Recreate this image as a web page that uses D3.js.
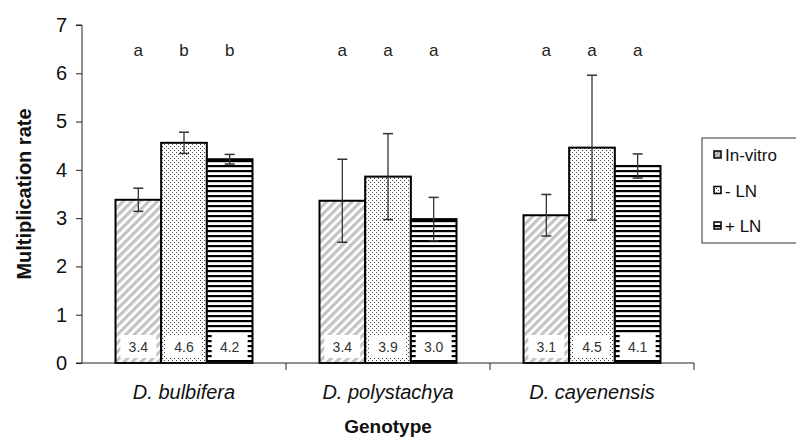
<!DOCTYPE html>
<html><head><meta charset="utf-8">
<script src="https://cdn.jsdelivr.net/npm/d3@7/dist/d3.min.js"></script>
<style>body{margin:0;background:#fff}svg{display:block}text{font-family:"Liberation Sans",Arial,sans-serif}</style>
</head><body><svg id="c" width="796" height="438"></svg>
<script>
const categories = ["D. bulbifera", "D. polystachya", "D. cayenensis"];
const seriesNames = ["In-vitro", "- LN", "+ LN"];
const inVitro = [3.38, 3.36, 3.06];
const inVitroErr = [0.24, 0.86, 0.43];
const minusLN = [4.56, 3.86, 4.46];
const minusLNErr = [0.22, 0.89, 1.50];
const plusLN = [4.22, 2.98, 4.08];
const plusLNErr = [0.10, 0.45, 0.25];
const letters = [["a","b","b"],["a","a","a"],["a","a","a"]];
const yTicks = [0,1,2,3,4,5,6,7];

const values = [inVitro, minusLN, plusLN];
const errs = [inVitroErr, minusLNErr, plusLNErr];
const patIds = ["pDiag", "pDots", "pHoriz"];
const legPatIds = ["pDiagS", "pDots", "pHoriz"];

const svg = d3.select("#c");
const defs = svg.append("defs");
const p1 = defs.append("pattern").attr("id","pDiag").attr("patternUnits","userSpaceOnUse")
  .attr("width",6).attr("height",6).attr("patternTransform","rotate(45)");
p1.append("rect").attr("width",6).attr("height",6).attr("fill","#fff");
p1.append("rect").attr("width",3.2).attr("height",6).attr("fill","#c4c4c4");
const p1s = defs.append("pattern").attr("id","pDiagS").attr("patternUnits","userSpaceOnUse")
  .attr("width",3).attr("height",3).attr("patternTransform","rotate(45)");
p1s.append("rect").attr("width",3).attr("height",3).attr("fill","#e0e0e0");
p1s.append("rect").attr("width",1.8).attr("height",3).attr("fill","#999");
const p2 = defs.append("pattern").attr("id","pDots").attr("patternUnits","userSpaceOnUse")
  .attr("width",4).attr("height",4);
p2.append("rect").attr("width",4).attr("height",4).attr("fill","#fff");
p2.append("rect").attr("x",0).attr("y",0).attr("width",1).attr("height",1).attr("fill","#444");
p2.append("rect").attr("x",2).attr("y",2).attr("width",1).attr("height",1).attr("fill","#444");
const p3 = defs.append("pattern").attr("id","pHoriz").attr("patternUnits","userSpaceOnUse")
  .attr("width",5).attr("height",5);
p3.append("rect").attr("width",5).attr("height",5).attr("fill","#fff");
p3.append("rect").attr("y",0).attr("width",5).attr("height",2.2).attr("fill","#000");

const x0 = 82, x1 = 694, yTop = 25, yBot = 363;
const x = d3.scaleBand().domain(categories).range([x0, x1]).paddingInner(0).paddingOuter(0);
const y = d3.scaleLinear().domain([0,7]).range([yBot, yTop]);
const groupW = 137;
const xs = d3.scaleBand().domain(seriesNames).range([0, groupW]).padding(0);

const g = svg.append("g");
categories.forEach((cat, ci) => {
  const gx = x(cat) + (x.bandwidth() - groupW)/2;
  seriesNames.forEach((s, si) => {
    const v = values[si][ci], e = errs[si][ci];
    const bx = gx + xs(s), bw = xs.bandwidth();
    g.append("rect").attr("x", bx).attr("y", y(v)).attr("width", bw).attr("height", y(0)-y(v))
      .attr("fill", `url(#${patIds[si]})`).attr("stroke","#000").attr("stroke-width",2);
    const cx = bx + bw/2;
    g.append("rect").attr("x", cx-18).attr("y", y(0)-28).attr("width",36).attr("height",23).attr("fill","#fff");
    g.append("text").attr("x", cx).attr("y", y(0)-11).attr("text-anchor","middle")
      .attr("font-size",14).attr("fill","#333").text(d3.format(".1f")(v));
    g.append("line").attr("x1",cx).attr("x2",cx).attr("y1",y(v+e)).attr("y2",y(v-e)).attr("stroke","#333").attr("stroke-width",1.3);
    [v+e, v-e].forEach(t => g.append("line").attr("x1",cx-5).attr("x2",cx+5).attr("y1",y(t)).attr("y2",y(t)).attr("stroke","#333").attr("stroke-width",1.5));
    g.append("text").attr("x", cx).attr("y", 56).attr("text-anchor","middle").attr("font-size",17).attr("fill","#222").text(letters[ci][si]);
  });
});

const yAxis = d3.axisLeft(y).tickValues(yTicks).tickSize(6).tickPadding(9).tickFormat(d3.format("d"));
const ya = svg.append("g").attr("transform",`translate(${x0},0)`).call(yAxis);
ya.select(".domain").attr("stroke","#222").attr("d",`M-6,${yTop}H0V${yBot}H-6`);
ya.selectAll("line").attr("stroke","#222");
ya.selectAll("text").attr("font-size",20).attr("fill","#111").attr("font-family","Liberation Sans, Arial, sans-serif");

const xAxis = d3.axisBottom(x).tickSize(0).tickPadding(0).tickFormat("");
const xa = svg.append("g").attr("transform",`translate(0,${yBot})`).call(xAxis);
xa.select(".domain").attr("stroke","#222").attr("d",`M${x0},0H${x1}`);
const sepTicks = categories.map(c => x(c) + x.bandwidth());
xa.selectAll(".sep").data(sepTicks).enter().append("line").attr("x1",d=>d).attr("x2",d=>d).attr("y1",0).attr("y2",7).attr("stroke","#222");
xa.selectAll(".cat").data(categories).enter().append("text").attr("x",d=>x(d)+x.bandwidth()/2).attr("y",36)
  .attr("text-anchor","middle").attr("font-size",20).attr("font-style","italic").attr("fill","#111").text(d=>d);

svg.append("text").attr("x",(x0+x1)/2).attr("y",433).attr("text-anchor","middle").attr("font-size",19).attr("font-weight","bold").attr("fill","#111").text("Genotype");
svg.append("text").attr("transform","translate(31,194) rotate(-90)").attr("text-anchor","middle").attr("font-size",20).attr("font-weight","bold").attr("fill","#111").text("Multiplication rate");

const lg = svg.append("g");
lg.append("rect").attr("x",702).attr("y",138).attr("width",100).attr("height",105).attr("fill","#fff").attr("stroke","#333").attr("stroke-width",1);
seriesNames.forEach((s,i) => {
  const yy = 155 + i*35.5;
  lg.append("rect").attr("x",714).attr("y",yy-4).attr("width",7).attr("height",7).attr("fill",`url(#${legPatIds[i]})`).attr("stroke","#000").attr("stroke-width",1.5);
  lg.append("text").attr("x",725).attr("y",yy+6).attr("font-size",17).attr("fill","#111").text(s);
});
</script></body></html>
